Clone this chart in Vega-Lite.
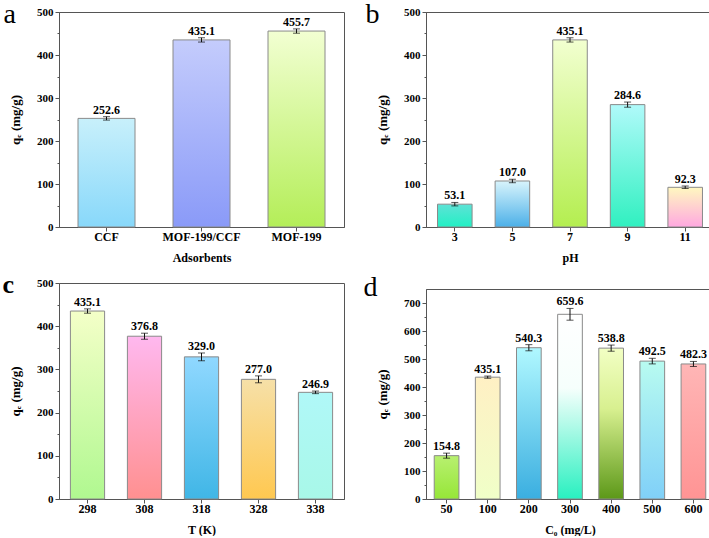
{
  "$schema": "https://vega.github.io/schema/vega-lite/v6.json",
  "padding": {"left": 2, "top": 0, "right": 0, "bottom": 0},
  "config": {
    "font": "Liberation Serif",
    "view": {"stroke": "#555555", "strokeWidth": 1},
    "axis": {"labelFont": "Liberation Serif", "labelFontWeight": "bold", "labelFontSize": 11, "labelColor": "#000000", "titleFont": "Liberation Serif", "titleFontWeight": "bold", "titleFontSize": 12, "titleColor": "#000000", "domainColor": "#555555", "tickColor": "#555555", "tickSize": 4, "grid": false, "labelOverlap": false},
    "axisX": {"labelFontSize": 12, "labelPadding": 0, "titlePadding": 10, "labelAngle": 0},
    "axisY": {"labelPadding": 2, "titlePadding": 14, "titleFontSize": 13},
    "title": {"font": "Liberation Serif", "fontSize": 28, "fontWeight": "normal", "anchor": "start", "frame": "bounds", "color": "#000000", "offset": 0}
  },
  "spacing": 18,
  "hconcat": [
    {
      "spacing": 7,
      "vconcat": [
        {
          "title": {"text": "a", "dx": -6, "dy": 27},
          "width": 285, "height": 215,
          "data": {"values": [
            {"x": "CCF", "v": 252.6, "lo": 248.6, "hi": 256.6},
            {"x": "MOF-199/CCF", "v": 435.1, "lo": 430.1, "hi": 440.1},
            {"x": "MOF-199", "v": 455.7, "lo": 450.7, "hi": 460.7}
          ]},
          "resolve": {"axis": {"y": "independent"}},
          "encoding": {"x": {"field": "x", "type": "nominal", "sort": null, "scale": {"paddingInner": 0.4, "paddingOuter": 0.2}, "axis": {"title": "Adsorbents"}}},
          "layer": [
            {"mark": {"type": "bar", "stroke": "#8a8a8a", "strokeWidth": 1},
             "encoding": {
               "y": {"field": "v", "type": "quantitative", "scale": {"domain": [0, 500], "nice": false}, "axis": {"title": "qₑ (mg/g)", "orient": "left", "values": [0, 100, 200, 300, 400, 500]}},
               "fill": {"condition": [
                 {"test": "datum.x==='CCF'", "value": {"gradient": "linear", "x1": 0, "y1": 0, "x2": 0, "y2": 1, "stops": [{"offset": 0, "color": "#c8f0fb"}, {"offset": 1, "color": "#88d8fa"}]}},
                 {"test": "datum.x==='MOF-199/CCF'", "value": {"gradient": "linear", "x1": 0, "y1": 0, "x2": 0, "y2": 1, "stops": [{"offset": 0, "color": "#c4ccfc"}, {"offset": 1, "color": "#8a9af8"}]}}
               ], "value": {"gradient": "linear", "x1": 0, "y1": 0, "x2": 0, "y2": 1, "stops": [{"offset": 0, "color": "#f2ffd2"}, {"offset": 1, "color": "#b4ee58"}]}}
             }},
            {"mark": {"type": "rule", "color": "#111111"}, "encoding": {"y": {"field": "lo", "type": "quantitative", "axis": {"title": null, "orient": "left", "labels": false, "domain": false, "tickSize": 2, "values": [50, 150, 250, 350, 450]}}, "y2": {"field": "hi"}}},
            {"mark": {"type": "tick", "color": "#111111", "size": 7, "thickness": 1}, "encoding": {"y": {"field": "lo", "type": "quantitative", "axis": null}}},
            {"mark": {"type": "tick", "color": "#111111", "size": 7, "thickness": 1}, "encoding": {"y": {"field": "hi", "type": "quantitative", "axis": null}}},
            {"mark": {"type": "text", "baseline": "alphabetic", "dy": -3, "fontWeight": "bold", "fontSize": 12, "font": "Liberation Serif"},
             "encoding": {"y": {"field": "hi", "type": "quantitative", "axis": null}, "text": {"field": "v", "type": "quantitative", "format": ".1f"}}}
          ]
        },
        {
          "title": {"text": "c", "dx": -7, "dy": 25, "fontWeight": "bold", "fontSize": 26},
          "width": 285, "height": 216,
          "data": {"values": [
            {"x": 298, "v": 435.1, "lo": 430.1, "hi": 440.1},
            {"x": 308, "v": 376.8, "lo": 369.8, "hi": 383.8},
            {"x": 318, "v": 329.0, "lo": 320.0, "hi": 338.0},
            {"x": 328, "v": 277.0, "lo": 269.0, "hi": 285.0},
            {"x": 338, "v": 246.9, "lo": 243.9, "hi": 249.9}
          ]},
          "resolve": {"axis": {"y": "independent"}},
          "encoding": {"x": {"field": "x", "type": "ordinal", "scale": {"paddingInner": 0.4, "paddingOuter": 0.2}, "axis": {"title": "T (K)"}}},
          "layer": [
            {"mark": {"type": "bar", "stroke": "#8a8a8a", "strokeWidth": 1},
             "encoding": {
               "y": {"field": "v", "type": "quantitative", "scale": {"domain": [0, 500], "nice": false}, "axis": {"title": "qₑ (mg/g)", "orient": "left", "values": [0, 100, 200, 300, 400, 500]}},
               "fill": {"condition": [
                 {"test": "datum.x===298", "value": {"gradient": "linear", "x1": 0, "y1": 0, "x2": 0, "y2": 1, "stops": [{"offset": 0, "color": "#f4ffc8"}, {"offset": 1, "color": "#b0f890"}]}},
                 {"test": "datum.x===308", "value": {"gradient": "linear", "x1": 0, "y1": 0, "x2": 0, "y2": 1, "stops": [{"offset": 0, "color": "#ffb8ef"}, {"offset": 1, "color": "#ff9090"}]}},
                 {"test": "datum.x===318", "value": {"gradient": "linear", "x1": 0, "y1": 0, "x2": 0, "y2": 1, "stops": [{"offset": 0, "color": "#90d8ff"}, {"offset": 1, "color": "#40b6e6"}]}},
                 {"test": "datum.x===328", "value": {"gradient": "linear", "x1": 0, "y1": 0, "x2": 0, "y2": 1, "stops": [{"offset": 0, "color": "#f6e0a8"}, {"offset": 1, "color": "#ffc850"}]}}
               ], "value": {"gradient": "linear", "x1": 0, "y1": 0, "x2": 0, "y2": 1, "stops": [{"offset": 0, "color": "#b0f8f8"}, {"offset": 1, "color": "#a8f8e8"}]}}
             }},
            {"mark": {"type": "rule", "color": "#111111"}, "encoding": {"y": {"field": "lo", "type": "quantitative", "axis": {"title": null, "orient": "left", "labels": false, "domain": false, "tickSize": 2, "values": [50, 150, 250, 350, 450]}}, "y2": {"field": "hi"}}},
            {"mark": {"type": "tick", "color": "#111111", "size": 7, "thickness": 1}, "encoding": {"y": {"field": "lo", "type": "quantitative", "axis": null}}},
            {"mark": {"type": "tick", "color": "#111111", "size": 7, "thickness": 1}, "encoding": {"y": {"field": "hi", "type": "quantitative", "axis": null}}},
            {"mark": {"type": "text", "baseline": "alphabetic", "dy": -3, "fontWeight": "bold", "fontSize": 12, "font": "Liberation Serif"},
             "encoding": {"y": {"field": "hi", "type": "quantitative", "axis": null}, "text": {"field": "v", "type": "quantitative", "format": ".1f"}}}
          ]
        }
      ]
    },
    {
      "spacing": 9,
      "vconcat": [
        {
          "title": {"text": "b", "dx": -11, "dy": 27},
          "width": 288, "height": 215,
          "data": {"values": [
            {"x": 3, "v": 53.1, "lo": 49.1, "hi": 57.1},
            {"x": 5, "v": 107.0, "lo": 103.0, "hi": 111.0},
            {"x": 7, "v": 435.1, "lo": 430.1, "hi": 440.1},
            {"x": 9, "v": 284.6, "lo": 278.6, "hi": 290.6},
            {"x": 11, "v": 92.3, "lo": 89.3, "hi": 95.3}
          ]},
          "resolve": {"axis": {"y": "independent"}},
          "encoding": {"x": {"field": "x", "type": "ordinal", "scale": {"paddingInner": 0.4, "paddingOuter": 0.2}, "axis": {"title": "pH"}}},
          "layer": [
            {"mark": {"type": "bar", "stroke": "#8a8a8a", "strokeWidth": 1},
             "encoding": {
               "y": {"field": "v", "type": "quantitative", "scale": {"domain": [0, 500], "nice": false}, "axis": {"title": "qₑ (mg/g)", "orient": "left", "values": [0, 100, 200, 300, 400, 500]}},
               "fill": {"condition": [
                 {"test": "datum.x===3", "value": {"gradient": "linear", "x1": 0, "y1": 0, "x2": 0, "y2": 1, "stops": [{"offset": 0, "color": "#5ee2d6"}, {"offset": 1, "color": "#22f0c4"}]}},
                 {"test": "datum.x===5", "value": {"gradient": "linear", "x1": 0, "y1": 0, "x2": 0, "y2": 1, "stops": [{"offset": 0, "color": "#d8f4fc"}, {"offset": 1, "color": "#4cb0e8"}]}},
                 {"test": "datum.x===7", "value": {"gradient": "linear", "x1": 0, "y1": 0, "x2": 0, "y2": 1, "stops": [{"offset": 0, "color": "#f2ffd0"}, {"offset": 1, "color": "#b4ee50"}]}},
                 {"test": "datum.x===9", "value": {"gradient": "linear", "x1": 0, "y1": 0, "x2": 0, "y2": 1, "stops": [{"offset": 0, "color": "#b0fafa"}, {"offset": 1, "color": "#30f0c0"}]}}
               ], "value": {"gradient": "linear", "x1": 0, "y1": 0, "x2": 0, "y2": 1, "stops": [{"offset": 0, "color": "#fff8c0"}, {"offset": 1, "color": "#ffa8e0"}]}}
             }},
            {"mark": {"type": "rule", "color": "#111111"}, "encoding": {"y": {"field": "lo", "type": "quantitative", "axis": {"title": null, "orient": "left", "labels": false, "domain": false, "tickSize": 2, "values": [50, 150, 250, 350, 450]}}, "y2": {"field": "hi"}}},
            {"mark": {"type": "tick", "color": "#111111", "size": 7, "thickness": 1}, "encoding": {"y": {"field": "lo", "type": "quantitative", "axis": null}}},
            {"mark": {"type": "tick", "color": "#111111", "size": 7, "thickness": 1}, "encoding": {"y": {"field": "hi", "type": "quantitative", "axis": null}}},
            {"mark": {"type": "text", "baseline": "alphabetic", "dy": -3, "fontWeight": "bold", "fontSize": 12, "font": "Liberation Serif"},
             "encoding": {"y": {"field": "hi", "type": "quantitative", "axis": null}, "text": {"field": "v", "type": "quantitative", "format": ".1f"}}}
          ]
        },
        {
          "title": {"text": "d", "dx": -13, "dy": 17},
          "width": 288, "height": 210,
          "data": {"values": [
            {"x": 50, "v": 154.8, "lo": 145.8, "hi": 163.8},
            {"x": 100, "v": 435.1, "lo": 431.1, "hi": 439.1},
            {"x": 200, "v": 540.3, "lo": 529.3, "hi": 551.3},
            {"x": 300, "v": 659.6, "lo": 638.6, "hi": 680.6},
            {"x": 400, "v": 538.8, "lo": 527.8, "hi": 549.8},
            {"x": 500, "v": 492.5, "lo": 482.5, "hi": 502.5},
            {"x": 600, "v": 482.3, "lo": 473.3, "hi": 491.3}
          ]},
          "resolve": {"axis": {"y": "independent"}},
          "encoding": {"x": {"field": "x", "type": "ordinal", "scale": {"paddingInner": 0.4, "paddingOuter": 0.2}, "axis": {"title": "C₀ (mg/L)"}}},
          "layer": [
            {"mark": {"type": "bar", "stroke": "#8a8a8a", "strokeWidth": 1},
             "encoding": {
               "y": {"field": "v", "type": "quantitative", "scale": {"domain": [0, 750], "nice": false}, "axis": {"title": "qₑ (mg/g)", "orient": "left", "values": [0, 100, 200, 300, 400, 500, 600, 700]}},
               "fill": {"condition": [
                 {"test": "datum.x===50", "value": {"gradient": "linear", "x1": 0, "y1": 0, "x2": 0, "y2": 1, "stops": [{"offset": 0, "color": "#b8f070"}, {"offset": 1, "color": "#96e638"}]}},
                 {"test": "datum.x===100", "value": {"gradient": "linear", "x1": 0, "y1": 0, "x2": 0, "y2": 1, "stops": [{"offset": 0, "color": "#fff0c4"}, {"offset": 1, "color": "#f0ffc8"}]}},
                 {"test": "datum.x===200", "value": {"gradient": "linear", "x1": 0, "y1": 0, "x2": 0, "y2": 1, "stops": [{"offset": 0, "color": "#b0f8ff"}, {"offset": 1, "color": "#3aaee0"}]}},
                 {"test": "datum.x===300", "value": {"gradient": "linear", "x1": 0, "y1": 0, "x2": 0, "y2": 1, "stops": [{"offset": 0, "color": "#ffffff"}, {"offset": 0.4, "color": "#f6fffc"}, {"offset": 1, "color": "#28f0c0"}]}},
                 {"test": "datum.x===400", "value": {"gradient": "linear", "x1": 0, "y1": 0, "x2": 0, "y2": 1, "stops": [{"offset": 0, "color": "#f2ffc4"}, {"offset": 0.4, "color": "#d8f090"}, {"offset": 1, "color": "#5c9818"}]}},
                 {"test": "datum.x===500", "value": {"gradient": "linear", "x1": 0, "y1": 0, "x2": 0, "y2": 1, "stops": [{"offset": 0, "color": "#b8fbf0"}, {"offset": 1, "color": "#80d0f8"}]}}
               ], "value": {"gradient": "linear", "x1": 0, "y1": 0, "x2": 0, "y2": 1, "stops": [{"offset": 0, "color": "#ffb6b6"}, {"offset": 1, "color": "#ff9494"}]}}
             }},
            {"mark": {"type": "rule", "color": "#111111"}, "encoding": {"y": {"field": "lo", "type": "quantitative", "axis": {"title": null, "orient": "left", "labels": false, "domain": false, "tickSize": 2, "values": [50, 150, 250, 350, 450, 550, 650]}}, "y2": {"field": "hi"}}},
            {"mark": {"type": "tick", "color": "#111111", "size": 7, "thickness": 1}, "encoding": {"y": {"field": "lo", "type": "quantitative", "axis": null}}},
            {"mark": {"type": "tick", "color": "#111111", "size": 7, "thickness": 1}, "encoding": {"y": {"field": "hi", "type": "quantitative", "axis": null}}},
            {"mark": {"type": "text", "baseline": "alphabetic", "dy": -3, "fontWeight": "bold", "fontSize": 12, "font": "Liberation Serif"},
             "encoding": {"y": {"field": "hi", "type": "quantitative", "axis": null}, "text": {"field": "v", "type": "quantitative", "format": ".1f"}}}
          ]
        }
      ]
    }
  ]
}
